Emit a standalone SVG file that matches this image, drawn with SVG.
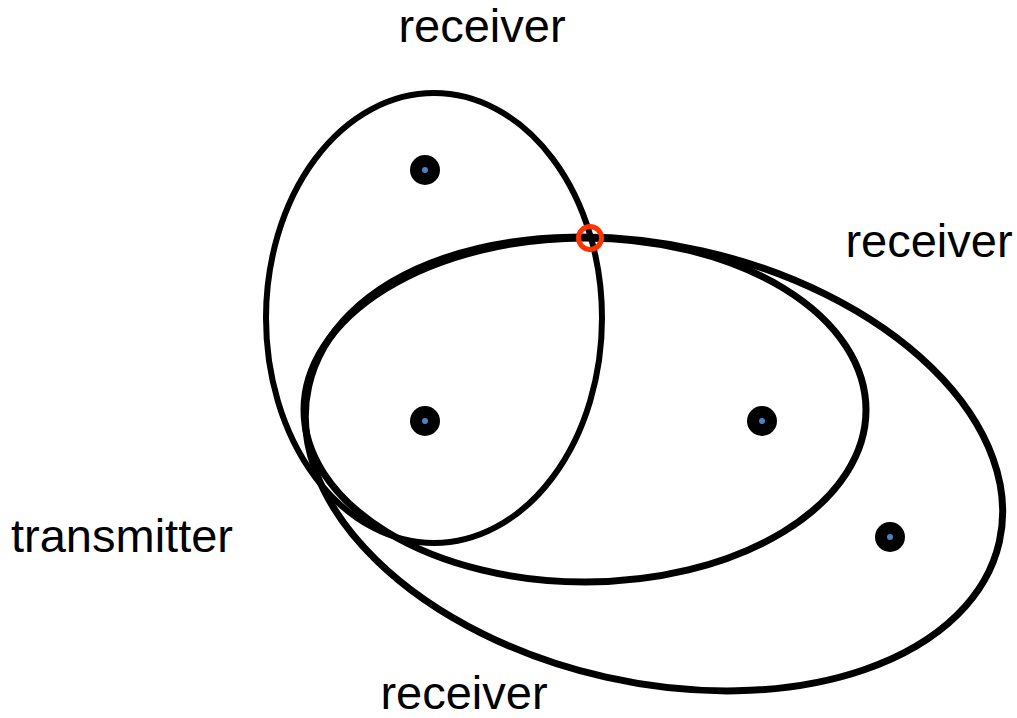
<svg xmlns="http://www.w3.org/2000/svg" width="1017" height="718" viewBox="0 0 1017 718">
  <style>
    .range { fill: none; stroke: #000; }
    .label { font-family: "Liberation Sans", Arial, sans-serif; font-size: 47px; fill: #000; }
    .node-outer { fill: #000; }
    .node-inner { fill: #4f81bd; }
    .hit { fill: none; stroke: #ff3300; stroke-width: 5; }
  </style>
  <rect width="1017" height="718" fill="#fff"/>

  <!-- coverage ranges -->
  <g id="ranges">
    <ellipse id="range-top" class="range" stroke-width="6" cx="434" cy="318" rx="168" ry="225"/>
    <ellipse id="range-middle" class="range" stroke-width="7" cx="585" cy="410" rx="281" ry="172"/>
    <ellipse id="range-large" class="range" stroke-width="7" cx="0" cy="0" rx="354" ry="218.5" transform="translate(654 464) rotate(12.7)"/>
  </g>

  <!-- stations -->
  <g id="node-top">
    <circle class="node-outer" cx="425" cy="170" r="15"/>
    <circle class="node-inner" cx="425" cy="170" r="3"/>
  </g>
  <g id="node-transmitter">
    <circle class="node-outer" cx="425" cy="421" r="15"/>
    <circle class="node-inner" cx="425" cy="421" r="3"/>
  </g>
  <g id="node-right">
    <circle class="node-outer" cx="762" cy="421" r="15"/>
    <circle class="node-inner" cx="762" cy="421" r="3"/>
  </g>
  <g id="node-far">
    <circle class="node-outer" cx="890" cy="537" r="15"/>
    <circle class="node-inner" cx="890" cy="537" r="3"/>
  </g>

  <!-- intersection marker -->
  <g id="intersection">
    <circle class="hit" cx="590" cy="238" r="11.5"/>
  </g>

  <!-- labels -->
  <g id="labels">
    <text class="label" x="482" y="42" text-anchor="middle">receiver</text>
    <text class="label" x="929" y="257" text-anchor="middle">receiver</text>
    <text class="label" x="11" y="552">transmitter</text>
    <text class="label" x="464" y="709" text-anchor="middle">receiver</text>
  </g>
</svg>
